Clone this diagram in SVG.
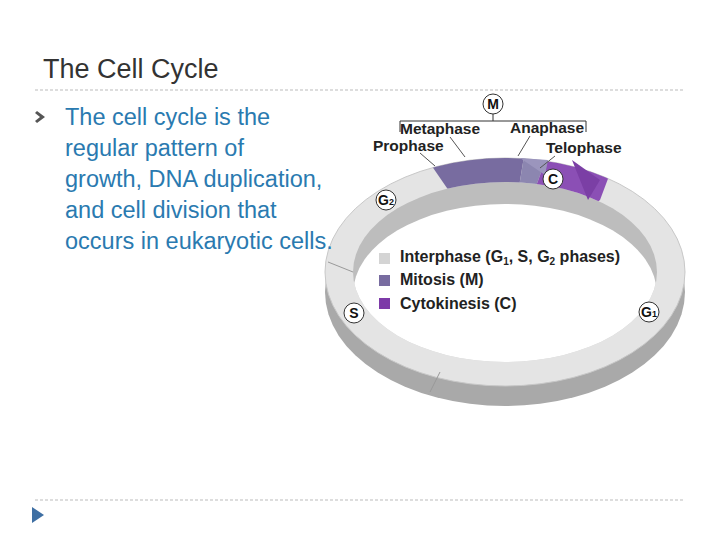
<svg xmlns="http://www.w3.org/2000/svg" width="720" height="540" viewBox="0 0 720 540">
<style>
.b{font-family:"Liberation Sans",Arial,sans-serif;fill:#2a7ab0;font-size:23.5px}
.l{font-family:"Liberation Sans",Arial,sans-serif;font-weight:bold;font-size:15.5px;fill:#222}
.g{font-family:"Liberation Sans",Arial,sans-serif;font-weight:bold;font-size:16px;fill:#222}
.c{fill:#fff;stroke:#333;stroke-width:1}
.cl{font-family:"Liberation Sans",Arial,sans-serif;font-weight:bold;font-size:14px;fill:#111;text-anchor:middle}
.d{stroke:#bbb;stroke-dasharray:3 2;stroke-width:1}
</style>
<defs>
<clipPath id="ring"><path clip-rule="evenodd" d="M325 272a180 114 0 1 0 360 0a180 114 0 1 0 -360 0ZM353 272a152 90 0 1 0 304 0a152 90 0 1 0 -304 0Z"/></clipPath>
<clipPath id="hole"><ellipse cx="505" cy="272" rx="152" ry="90"/></clipPath>
</defs>
<rect width="720" height="540" fill="#fff"/>
<text x="43" y="78" font-family="Liberation Sans,Arial,sans-serif" font-size="27" fill="#333">The Cell Cycle</text>
<line class="d" x1="35" y1="90" x2="685" y2="90"/>
<line class="d" x1="35" y1="500" x2="685" y2="500"/>
<path d="M32 507l12 8-12 8z" fill="#3e6fa3"/>
<path d="M37 111l8 6-8 6-2-2 5-4-5-4z" fill="#555"/>
<g id="cycle">
<ellipse cx="505" cy="292" rx="180" ry="114" fill="#a9a9a9"/>
<ellipse cx="505" cy="272" rx="180" ry="114" fill="#e4e4e4" stroke="#c8c8c8"/>
<ellipse cx="505" cy="272" rx="152" ry="90" fill="#bdbdbd"/>
<ellipse cx="505" cy="294" rx="152" ry="90" fill="#fff" clip-path="url(#hole)"/>
<g clip-path="url(#ring)">
<polygon points="505,272 400,120 530,120" fill="#786ca0"/>
<polygon points="505,272 530,120 560,120" fill="#8c86b0"/>
<polygon points="505,272 560,120 630,120 600,200" fill="#8b4fb5"/>
</g>
<polygon points="520,158 548,160 545,175" fill="#9b95bd"/>
<polygon points="572,160 600,180 588,200" fill="#7b3fa5"/>
<line x1="430" y1="392" x2="440" y2="372" stroke="#999"/>
<line x1="328" y1="262" x2="353" y2="272" stroke="#999"/>
</g>
<g id="text">
<text class="b" x="65" y="125">The cell cycle is the</text>
<text class="b" x="65" y="156">regular pattern of</text>
<text class="b" x="65" y="187">growth, DNA duplication,</text>
<text class="b" x="65" y="218">and cell division that</text>
<text class="b" x="65" y="249">occurs in eukaryotic cells.</text>
</g>
<g id="labels">
<circle class="c" cx="493" cy="104" r="10"/><text class="cl" x="493" y="109">M</text>
<path d="M400 132V121H586V132M493 114V121" fill="none" stroke="#333"/>
<text class="l" x="400" y="134">Metaphase</text>
<text class="l" x="510" y="133">Anaphase</text>
<text class="l" x="373" y="151">Prophase</text>
<text class="l" x="546" y="153">Telophase</text>
<path d="M450 137l15 20M420 153l15 13M530 136l-12 20M555 156l-15 12" stroke="#555" fill="none"/>
<circle class="c" cx="553" cy="179" r="10"/><text class="cl" x="553" y="184">C</text>
<circle class="c" cx="386" cy="200" r="10"/><text class="cl" x="386" y="205">G<tspan font-size="9">2</tspan></text>
<circle class="c" cx="354" cy="313" r="10"/><text class="cl" x="354" y="318">S</text>
<circle class="c" cx="649" cy="312" r="10"/><text class="cl" x="649" y="317">G<tspan font-size="9">1</tspan></text>
</g>
<g id="legend">
<rect x="379" y="253" width="11" height="11" fill="#d4d4d4"/>
<rect x="379" y="275" width="11" height="11" fill="#786ca0"/>
<rect x="379" y="298" width="11" height="11" fill="#7d3aa8"/>
<text class="g" x="400" y="262">Interphase (G<tspan font-size="10" dy="3">1</tspan><tspan dy="-3">, S, G</tspan><tspan font-size="10" dy="3">2</tspan><tspan dy="-3"> phases)</tspan></text>
<text class="g" x="400" y="285">Mitosis (M)</text>
<text class="g" x="400" y="309">Cytokinesis (C)</text>
</g>
</svg>
